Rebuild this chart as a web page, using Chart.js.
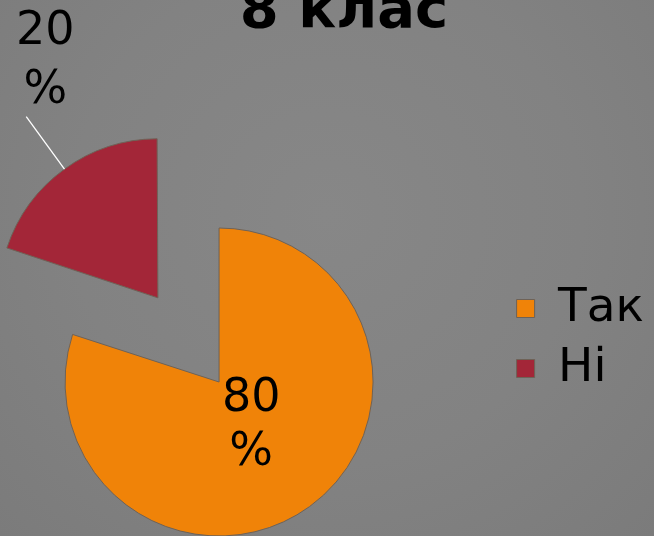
<!DOCTYPE html>
<html>
<head>
<meta charset="utf-8">
<script src="https://cdn.jsdelivr.net/npm/chart.js@4/dist/chart.umd.min.js"></script>
<style>
	html, body {
		margin: 0;
		width: 654px;
		height: 536px;
		overflow: hidden;
		background: radial-gradient(ellipse at 50% 40%, #878787 0%, #828282 55%, #7b7b7b 100%);
	}
	#wrap {
		position: absolute;
		left: -70px;
		top: -40px;
		width: 724px;
		height: 600px;
	}
</style>
</head>
<body>
<div id="wrap"><canvas id="chart"></canvas></div>
<script>
const categories = ["Так", "Ні"];
const percentValues = [80, 20];
const sliceColors = ["#f08308", "#a32638"];
const chartTitle = "8 клас";

// the title sits right of the chart area centre, so it gets moved after layout
const titleCenterX = 414;

const titleShift = {
	id: "titleShift",
	afterLayout: (chart) => {
		const title = chart.titleBlock;
		if (!title) {
			return;
		}
		title.left = 2 * titleCenterX - title.right;
	},
};

// data labels: inside the slice, or outside with a leader line for the pulled-out one
const sliceLabels = {
	id: "sliceLabels",
	afterDatasetsDraw: (chart) => {
		const ctx = chart.ctx;
		const meta = chart.getDatasetMeta(0);
		meta.data.forEach((arc, index) => {
			const { x, y, startAngle, endAngle, outerRadius } = arc.getProps(
				["x", "y", "startAngle", "endAngle", "outerRadius"],
				true
			);
			const mid = (startAngle + endAngle) / 2;
			const shift = (arc.options.offset || 0) / 4;
			const cx = x + Math.cos(mid) * shift;
			const cy = y + Math.sin(mid) * shift;
			const lines = [`${percentValues[index]}`, "%"];

			let tx, ty, lineGap;
			if (shift > 0) {
				const r0 = outerRadius + 5;
				const r1 = outerRadius + 70;
				const ex = cx + Math.cos(mid) * r1;
				const ey = cy + Math.sin(mid) * r1;
				ctx.save();
				ctx.strokeStyle = "#ffffff";
				ctx.lineWidth = 1.3;
				ctx.beginPath();
				ctx.moveTo(cx + Math.cos(mid) * r0, cy + Math.sin(mid) * r0);
				ctx.lineTo(ex, ey);
				ctx.stroke();
				ctx.restore();
				tx = ex + 19;
				ty = ey - 55;
				lineGap = 59;
			} else {
				tx = cx + Math.cos(mid) * outerRadius * 0.355;
				ty = cy + Math.sin(mid) * outerRadius * 0.355;
				lineGap = 54;
			}

			ctx.save();
			ctx.fillStyle = "#000000";
			ctx.font = "46px 'DejaVu Sans'";
			ctx.textAlign = "center";
			ctx.textBaseline = "middle";
			ctx.fillText(lines[0], tx, ty - lineGap / 2);
			ctx.fillText(lines[1], tx, ty + lineGap / 2);
			ctx.restore();
		});
	},
};

window.onload = () => {
	Chart.defaults.font.family = "'DejaVu Sans'";
	Chart.defaults.color = "#000000";
	const canvas = document.getElementById("chart");
	new Chart(canvas, {
		type: "pie",
		data: {
			labels: categories,
			datasets: [
				{
					data: percentValues,
					backgroundColor: sliceColors,
					borderColor: "#6e6257",
					borderWidth: 1,
					radius: 154,
					cutout: "0%",
					offset: [0, 416],
					clip: false,
				},
			],
		},
		options: {
			responsive: true,
			maintainAspectRatio: false,
			animation: false,
			events: [],
			layout: {
				padding: { left: 4.5, right: 0, top: 0, bottom: 155 },
			},
			plugins: {
				title: {
					display: true,
					text: chartTitle,
					color: "#000000",
					font: { size: 56, weight: "bold" },
					padding: { top: 19, bottom: 312.8 },
				},
				legend: {
					position: "right",
					align: "end",
					labels: {
						color: "#000000",
						font: { size: 47 },
						boxWidth: 18,
						boxHeight: 18,
						padding: 13,
					},
				},
				tooltip: { enabled: false },
			},
		},
		plugins: [titleShift, sliceLabels],
	});
};
</script>
</body>
</html>
